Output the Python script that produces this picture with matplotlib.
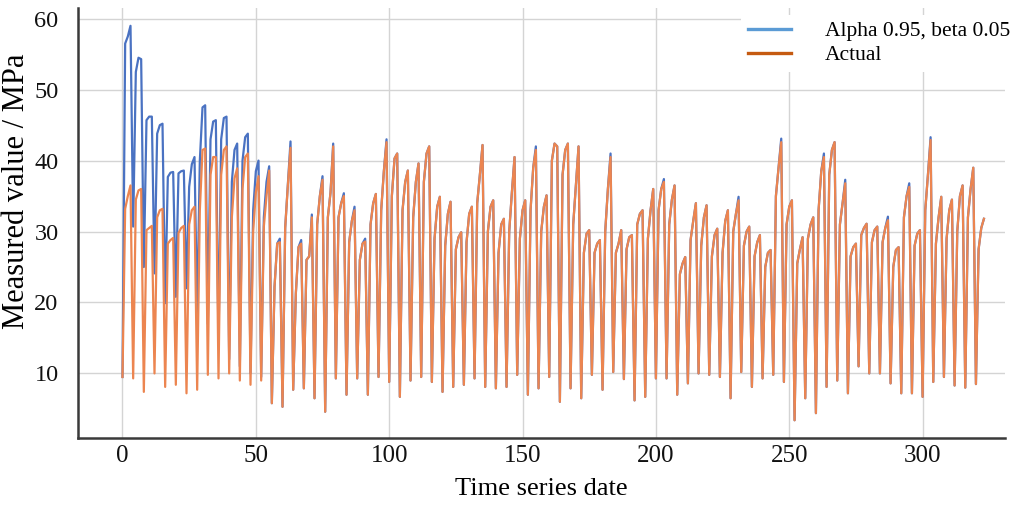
import matplotlib
matplotlib.use("Agg")
import matplotlib.pyplot as plt
from matplotlib.lines import Line2D

# ---- data ----
actual = [
    9.5, 33.2, 35.0, 36.5,   9.3, 34.5, 35.8, 36.0,   7.4, 30.2, 30.5, 30.8,
    10.0, 32.0, 33.0, 33.2,  8.1, 28.3, 28.8, 29.1,   8.4, 29.8, 30.5, 30.8,
    7.2, 31.0, 33.0, 33.5,   7.7, 33.0, 41.5, 41.7,   9.8, 38.0, 40.5, 40.5,
    9.3, 38.0, 41.5, 42.0,   10.0, 32.0, 37.5, 38.9,  9.0, 36.0, 40.5, 41.0,
    8.4, 30.0, 35.5, 37.8,   9.0, 30.7, 35.0, 38.6,   5.8, 22.2, 28.3, 28.5,
    5.3, 30.5, 36.5, 41.8,   7.7, 21.3, 27.8, 28.3,   7.9, 26.0, 26.5, 32.0,
    6.5, 31.0, 35.0, 37.3,   4.6, 32.0, 35.5, 42.0,   9.3, 32.0, 34.0, 35.0,
    7.0, 28.5, 31.5, 33.0,   9.3, 26.0, 28.3, 28.6,   7.0, 31.0, 34.0, 35.3,
    9.5, 33.0, 38.5, 42.6,   8.8, 35.0, 40.3, 41.0,   6.7, 33.0, 37.0, 38.6,
    9.0, 32.0, 37.0, 39.6,   9.5, 37.0, 41.0, 42.0,   8.8, 29.0, 33.5, 34.9,
    7.4, 28.0, 32.5, 34.2,   8.1, 27.5, 29.2, 29.9,   8.4, 28.5, 32.5, 33.5,
    9.3, 34.0, 38.0, 42.2,   8.1, 30.0, 33.5, 34.4,   7.9, 27.0, 31.0, 31.8,
    8.1, 30.0, 35.5, 40.5,   9.8, 29.0, 33.0, 34.4,   7.0, 33.0, 39.0, 41.5,
    7.9, 30.0, 33.5, 35.1,   9.5, 40.0, 42.4, 42.0,   6.0, 38.0, 41.5, 42.4,
    7.9, 31.0, 36.5, 42.0,   6.5, 27.0, 29.7, 30.2,   9.8, 27.0, 28.3, 28.8,
    7.7, 30.0, 36.0, 40.5,   10.2, 27.0, 28.3, 30.2,  9.2, 27.5, 29.2, 29.5,
    6.2, 31.0, 32.5, 33.0,   6.7, 29.0, 33.0, 36.0,   9.3, 33.0, 36.0, 37.0,
    9.3, 31.0, 34.5, 36.5,   7.0, 24.0, 25.5, 26.4,   8.6, 28.8, 31.5, 34.0,
    10.0, 28.0, 32.0, 33.7,  9.8, 26.5, 29.5, 30.4,   9.5, 27.0, 31.5, 33.0,
    6.5, 30.0, 32.5, 34.4,   10.2, 28.0, 30.0, 30.7,  8.1, 26.5, 28.5, 29.5,
    9.3, 25.0, 27.0, 27.4,   9.8, 35.0, 39.0, 42.6,   8.8, 31.0, 33.5, 34.4,
    3.4, 25.5, 27.5, 29.2,   6.5, 29.0, 31.0, 32.0,   4.4, 33.0, 38.5, 40.5,
    8.1, 38.0, 41.5, 42.6,   9.0, 31.0, 34.0, 36.8,   7.2, 26.5, 27.8, 28.3,
    11.0, 29.5, 30.5, 31.1,  10.0, 28.5, 30.2, 30.7,  10.0, 28.5, 30.5, 31.6,
    8.6, 25.0, 27.4, 27.8,   7.2, 32.0, 35.0, 36.3,   7.2, 28.0, 29.7, 30.2,
    6.7, 33.0, 38.0, 42.9,   8.8, 28.3, 32.0, 34.9,   9.5, 29.0, 33.0, 34.5,
    8.3, 30.0, 35.0, 36.5,   8.0, 32.0, 36.0, 39.0,   8.5, 27.5, 30.5, 31.8,
]

# fitted series (alpha 0.95, beta 0.05): start-up part differs clearly
fitted_start = [
    9.5, 56.5, 57.5, 59.0,   30.7, 52.5, 54.5, 54.3,  25.0, 45.7, 46.2, 46.2,
    24.1, 43.8, 45.0, 45.2,  19.9, 37.7, 38.3, 38.4,  20.8, 38.2, 38.5, 38.6,
    22.0, 36.3, 39.5, 40.5,  18.0, 40.0, 47.5, 47.8,  17.0, 43.0, 45.5, 45.7,
    14.0, 43.0, 46.0, 46.2,  12.0, 37.0, 41.5, 42.4,  11.0, 40.0, 43.3, 43.8,
    10.0, 33.0, 38.5, 40.0,  9.5, 32.0, 37.0, 39.2,
]
# afterwards it follows the actual values, slightly higher at some peaks
fitted_peak_idx = [59, 63, 67, 71, 75, 79, 83, 87, 91, 99, 155, 183, 203, 231, 247, 263, 271, 287, 295, 303]
fitted_peak_val = [29.0, 42.7, 28.8, 32.4, 37.8, 42.4, 35.4, 33.5, 29.0, 43.0, 42.0, 41.0,
                   37.4, 34.9, 43.1, 41.0, 37.3, 32.1, 36.8, 43.3]

x_ticks = [0, 50, 100, 150, 200, 250, 300]
y_ticks = [10, 20, 30, 40, 50, 60]

fitted = list(actual)
fitted[:len(fitted_start)] = fitted_start
for i, v in zip(fitted_peak_idx, fitted_peak_val):
    fitted[i] = v
t = list(range(len(actual)))

# ---- figure ----
plt.rcParams['font.family'] = ['Liberation Serif', 'DejaVu Serif']
fig = plt.figure(figsize=(10.19, 5.05), dpi=100)
ax = fig.add_axes([0.0765, 0.1327, 0.9095, 0.8513])

ax.plot(t, fitted, color='#4a72c2', lw=1.6, zorder=2)
ax.plot(t, actual, color='#ec8550', lw=1.6, zorder=3)

ax.set_xlim(-16.7, 330.8)
ax.set_ylim(0.9, 61.5)
ax.set_xticks(x_ticks)
ax.set_yticks(y_ticks)
ax.grid(True, color='#d4d4d4', lw=1.0)
ax.set_axisbelow(True)
for s in ['top', 'right']:
    ax.spines[s].set_visible(False)
for s in ['left', 'bottom']:
    ax.spines[s].set_color('#3a3a3a')
    ax.spines[s].set_linewidth(1.8)
ax.tick_params(axis='y', labelsize=17.5, length=0, pad=14, colors='#111111')
ax.tick_params(axis='x', labelsize=18, length=0, pad=5, colors='#111111')

ax.set_xlabel('Time series date', fontsize=19)
ax.xaxis.set_label_coords(0.5, -0.093)
ax.set_ylabel('Measured value / MPa', fontsize=22)
ax.yaxis.set_label_coords(-0.051, 0.575)

handles = [Line2D([], [], color='#5b9bd5', lw=2.4),
           Line2D([], [], color='#c55a11', lw=2.4)]
leg = ax.legend(handles, ['Alpha 0.95, beta 0.05', 'Actual'], loc='upper right',
                bbox_to_anchor=(1.013, 0.985),
                fontsize=15.5, frameon=True, facecolor='white', edgecolor='none',
                framealpha=1, handlelength=2.0, handletextpad=1.6, borderaxespad=0.0,
                labelspacing=0.2, borderpad=0.3)

fig.savefig('out.png', dpi=100)
